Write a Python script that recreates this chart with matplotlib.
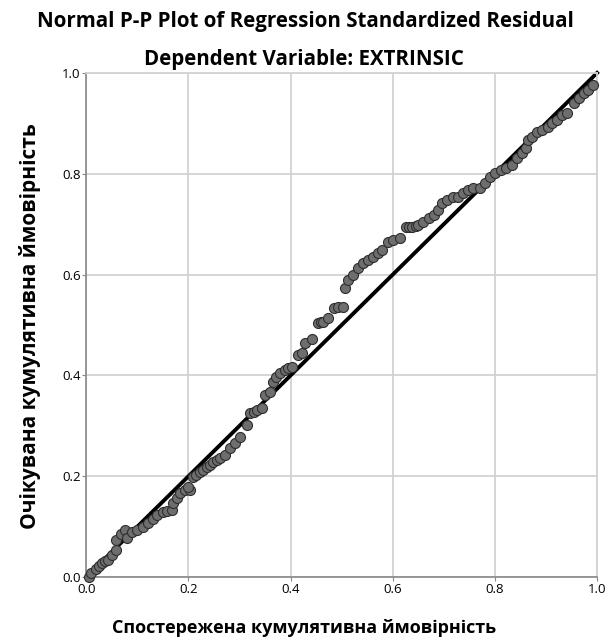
import matplotlib
matplotlib.use("Agg")
from matplotlib import pyplot as plt

# observed cumulative probability (x) and expected cumulative probability (y)
observed = [0.005, 0.01, 0.018, 0.025, 0.03, 0.036, 0.042, 0.05, 0.059, 0.059, 0.068, 0.075, 0.079,
            0.09, 0.10, 0.11, 0.12, 0.13, 0.138, 0.15, 0.158, 0.167, 0.17, 0.177, 0.183, 0.193, 0.203,
            0.199, 0.209, 0.215, 0.222, 0.229, 0.236, 0.242, 0.248, 0.255, 0.262, 0.271, 0.281, 0.291,
            0.301, 0.314, 0.321, 0.328, 0.334, 0.343, 0.35, 0.36, 0.366, 0.372, 0.379, 0.389, 0.395,
            0.402, 0.415, 0.422, 0.428, 0.441, 0.454, 0.459, 0.464, 0.474, 0.484, 0.493, 0.503, 0.507,
            0.513, 0.523, 0.532, 0.542, 0.552, 0.562, 0.572, 0.579, 0.591, 0.601, 0.615, 0.625, 0.632,
            0.638, 0.645, 0.65, 0.66, 0.67, 0.68, 0.689, 0.697, 0.707, 0.718, 0.728, 0.738, 0.748,
            0.758, 0.771, 0.781, 0.791, 0.801, 0.811, 0.821, 0.834, 0.844, 0.854, 0.86, 0.864, 0.873,
            0.883, 0.893, 0.903, 0.912, 0.922, 0.932, 0.942, 0.954, 0.964, 0.974, 0.983, 0.993]
expected = [0.0, 0.008, 0.015, 0.022, 0.028, 0.031, 0.034, 0.044, 0.054, 0.073, 0.085, 0.093, 0.077,
            0.09, 0.093, 0.1, 0.107, 0.115, 0.123, 0.129, 0.131, 0.133, 0.147, 0.157, 0.167, 0.173, 0.173,
            0.179, 0.198, 0.203, 0.208, 0.213, 0.218, 0.223, 0.228, 0.232, 0.236, 0.242, 0.256, 0.266,
            0.278, 0.302, 0.325, 0.328, 0.331, 0.335, 0.361, 0.367, 0.387, 0.397, 0.405, 0.411, 0.414,
            0.417, 0.44, 0.444, 0.464, 0.472, 0.504, 0.505, 0.506, 0.514, 0.534, 0.536, 0.536, 0.573,
            0.589, 0.599, 0.613, 0.623, 0.629, 0.635, 0.643, 0.649, 0.665, 0.669, 0.673, 0.694, 0.694,
            0.694, 0.696, 0.698, 0.704, 0.712, 0.718, 0.728, 0.742, 0.748, 0.754, 0.754, 0.762, 0.768,
            0.772, 0.772, 0.782, 0.794, 0.802, 0.808, 0.812, 0.817, 0.831, 0.841, 0.851, 0.867, 0.873,
            0.883, 0.887, 0.893, 0.901, 0.907, 0.917, 0.921, 0.94, 0.95, 0.96, 0.966, 0.976]
ref_line = [0.0, 1.0]
ticks = [0.0, 0.2, 0.4, 0.6, 0.8, 1.0]

plt.rcParams['font.family'] = ['Open Sans', 'DejaVu Sans']

fig = plt.figure(figsize=(6.08, 6.43), dpi=100)
ax = fig.add_axes([0.142, 0.1026, 0.84, 0.784])

ax.grid(True, color='#d2d2d2', linewidth=1.3, zorder=0)
ax.plot(ref_line, ref_line, color='black', linewidth=2.8, zorder=2, clip_on=False)
ax.scatter(observed, expected, s=52, facecolor='#6e6e6e', edgecolor='#2e2e2e',
           linewidth=0.8, zorder=3, clip_on=False)

ax.set_xlim(0, 1)
ax.set_ylim(0, 1)
ax.set_xticks(ticks)
ax.set_yticks(ticks)
ax.set_xticklabels([f"{t:.1f}" for t in ticks])
ax.set_yticklabels([f"{t:.1f}" for t in ticks])
ax.tick_params(length=3, width=0.8, color='#888888', labelsize=9.5, pad=1)
for side in ['left', 'bottom']:
    ax.spines[side].set_color('#888888')
    ax.spines[side].set_linewidth(1.2)
for side in ['top', 'right']:
    ax.spines[side].set_color('#d2d2d2')
    ax.spines[side].set_linewidth(1.3)

# axis titles placed like SPSS does: x title centred on the figure
fig.text(304 / 608, 1 - 628 / 643, "Спостережена кумулятивна ймовірність",
         ha='center', va='center', fontsize=13, fontweight='bold')
fig.text(30 / 608, 1 - 326 / 643, "Очікувана кумулятивна ймовірність",
         ha='center', va='center', rotation=90, fontsize=15, fontweight='bold')

fig.text(305 / 608, 1 - 22 / 643, "Normal P-P Plot of Regression Standardized Residual",
         ha='center', va='center', fontsize=14.8, fontweight='bold')
fig.text(0.5, 1 - 60 / 643, "Dependent Variable: EXTRINSIC",
         ha='center', va='center', fontsize=14.8, fontweight='bold')

fig.savefig("out.png", dpi=100)
